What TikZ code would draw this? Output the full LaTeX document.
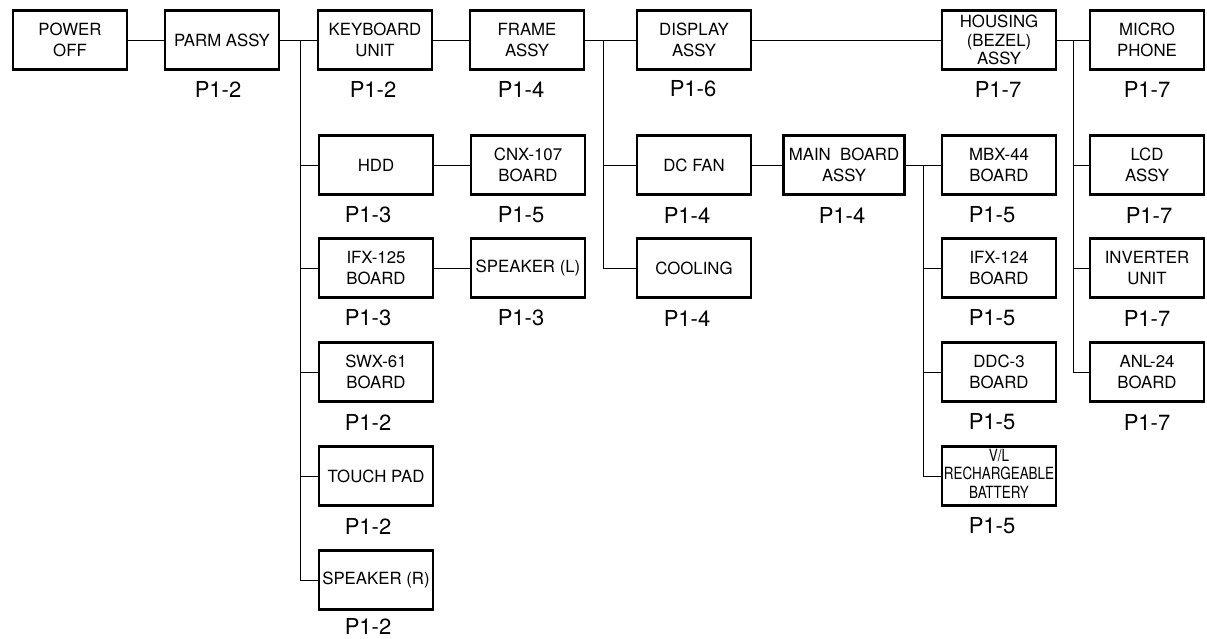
\documentclass[tikz,border=0pt]{standalone}
\usepackage{fontspec}
\setmainfont{TeX Gyre Heros}
\begin{document}
\begin{tikzpicture}[x=1pt,y=-1pt,
    main node/.style={rectangle,draw,line width=2.6pt,minimum width=114pt,minimum height=59pt,
                      inner sep=0pt,align=center,font=\fontsize{16.8}{21}\selectfont},
    page/.style={inner sep=0pt,font=\fontsize{22}{26}\selectfont},
    link/.style={line width=1pt}]
  \useasboundingbox (0,0) rectangle (1207,638);
  % top row
  \node[main node] (pwr) at (70,40) {POWER\\OFF};
  \node[main node] (parm) at (222,40) {PARM ASSY};
  \node[main node] (kbd) at (375,40) {KEYBOARD\\UNIT};
  \node[main node] (frame) at (527,40) {FRAME\\ASSY};
  \node[main node] (disp) at (694,40) {DISPLAY\\ASSY};
  \node[main node,font=\fontsize{16.8}{18.5}\selectfont] (hous) at (999,40) {HOUSING\\(BEZEL)\\ASSY};
  \node[main node] (mic) at (1147,40) {MICRO\\PHONE};
  % second row
  \node[main node] (hdd) at (376,165) {HDD};
  \node[main node] (cnx) at (528,165) {CNX-107\\BOARD};
  \node[main node] (fan) at (694,165) {DC FAN};
  \node[main node,minimum width=121pt] (main) at (844,165) {MAIN\ \ BOARD\\ASSY};
  \node[main node] (mbx) at (999,165) {MBX-44\\BOARD};
  \node[main node] (lcd) at (1147,165) {LCD\\ASSY};
  % third row
  \node[main node] (ifxa) at (376,268) {IFX-125\\BOARD};
  \node[main node] (spkl) at (528,268) {SPEAKER (L)};
  \node[main node] (cool) at (694,268) {COOLING};
  \node[main node] (ifxb) at (999,268) {IFX-124\\BOARD};
  \node[main node] (inv) at (1147,268) {INVERTER\\UNIT};
  % lower rows
  \node[main node] (swx) at (376,372) {SWX-61\\BOARD};
  \node[main node] (ddc) at (999,372) {DDC-3\\BOARD};
  \node[main node] (anl) at (1147,372) {ANL-24\\BOARD};
  \node[main node] (pad) at (376,476) {TOUCH PAD};
  \node[main node,font=\fontsize{16.8}{18.5}\selectfont] (bat) at (999,476)
       {\scalebox{0.8}[1]{\begin{tabular}{@{}c@{}}V/L\\RECHARGEABLE\\BATTERY\end{tabular}}};
  \node[main node] (spkr) at (376,580) {SPEAKER (R)};
  % page numbers
  \node[page] (Lparm) at (218,89) {P1-2};
  \node[page] (Lkbd) at (373,89) {P1-2};
  \node[page] (Lframe) at (521,89) {P1-4};
  \node[page] (Ldisp) at (693,89) {P1-6};
  \node[page] (Lhous) at (998,89) {P1-7};
  \node[page] (Lmic) at (1147,89) {P1-7};
  \node[page] (Lhdd) at (368,215) {P1-3};
  \node[page] (Lcnx) at (521,215) {P1-5};
  \node[page] (Lfan) at (687,215) {P1-4};
  \node[page] (Lmain) at (842,215) {P1-4};
  \node[page] (Lmbx) at (992,215) {P1-5};
  \node[page] (Llcd) at (1149,215) {P1-7};
  \node[page] (Lifxa) at (368,318) {P1-3};
  \node[page] (Lspkl) at (521,318) {P1-3};
  \node[page] (Lcool) at (687,318) {P1-4};
  \node[page] (Lifxb) at (992,318) {P1-5};
  \node[page] (Linv) at (1147,318) {P1-7};
  \node[page] (Lswx) at (368,422) {P1-2};
  \node[page] (Lddc) at (992,422) {P1-5};
  \node[page] (Lanl) at (1147,422) {P1-7};
  \node[page] (Lpad) at (368,526) {P1-2};
  \node[page] (Lbat) at (992,526) {P1-5};
  \node[page] (Lspkr) at (368,626) {P1-2};
  % branch points
  \coordinate (b1) at (300,40);
  \coordinate (b2) at (603,40);
  \coordinate (b3) at (923,165);
  \coordinate (b4) at (1073,40);
  \path[link]%
    (pwr) edge (parm)
    (parm) edge (kbd)
    (kbd) edge (frame)
    (frame) edge (disp)
    (disp) edge (hous)
    (hous) edge (mic)
    (hdd) edge (cnx)
    (ifxa) edge (spkl)
    (fan) edge (main)
    (main) edge (mbx);
  \draw[link] (b1) |- (hdd) (b1) |- (ifxa) (b1) |- (swx) (b1) |- (pad) (b1) |- (spkr);
  \draw[link] (b2) |- (fan) (b2) |- (cool);
  \draw[link] (b3) |- (ifxb) (b3) |- (ddc) (b3) |- (bat);
  \draw[link] (b4) |- (lcd) (b4) |- (inv) (b4) |- (anl);
\end{tikzpicture}
\end{document}
